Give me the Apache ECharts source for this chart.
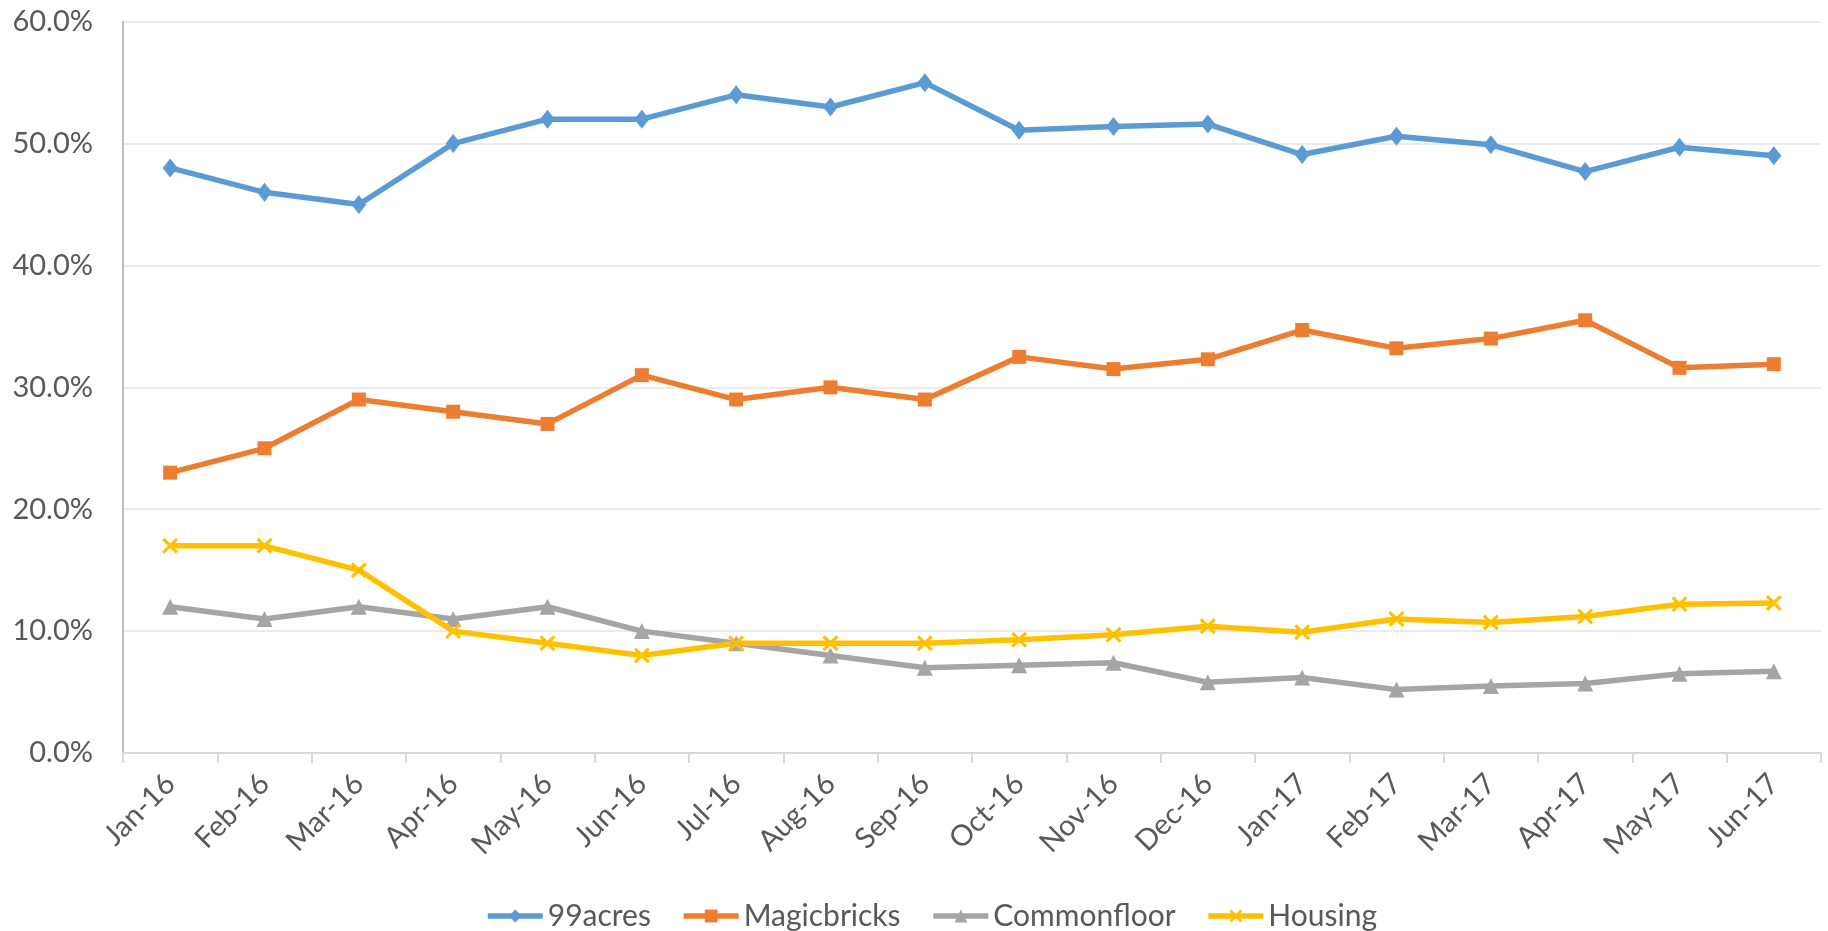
<!DOCTYPE html>
<html>
<head>
<meta charset="utf-8">
<script src="https://cdn.jsdelivr.net/npm/echarts@6/dist/echarts.min.js"></script>
<style>html,body{margin:0;padding:0;background:#fff}#c{width:1828px;height:931px}</style>
</head>
<body>
<div id="c"></div>
<script>
const categories = ['Jan-16','Feb-16','Mar-16','Apr-16','May-16','Jun-16','Jul-16','Aug-16','Sep-16','Oct-16','Nov-16','Dec-16','Jan-17','Feb-17','Mar-17','Apr-17','May-17','Jun-17'];
const acres99 = [0.48,0.46,0.45,0.50,0.52,0.52,0.54,0.53,0.55,0.511,0.514,0.516,0.491,0.506,0.499,0.477,0.497,0.490];
const magicbricks = [0.23,0.25,0.29,0.28,0.27,0.31,0.29,0.30,0.29,0.325,0.315,0.323,0.347,0.332,0.340,0.355,0.316,0.319];
const commonfloor = [0.12,0.11,0.12,0.11,0.12,0.10,0.09,0.08,0.07,0.072,0.074,0.058,0.062,0.052,0.055,0.057,0.065,0.067];
const housing = [0.17,0.17,0.15,0.10,0.09,0.08,0.09,0.09,0.09,0.093,0.097,0.104,0.099,0.110,0.107,0.112,0.122,0.123];
const seriesNames = ['99acres','Magicbricks','Commonfloor','Housing'];

const FONT = 'Lato';
const TXT = '#595959';
const X_PATH = 'path://M0,1.4 L1.4,0 L5,3.6 L8.6,0 L10,1.4 L6.4,5 L10,8.6 L8.6,10 L5,6.4 L1.4,10 L0,8.6 L3.6,5 Z';

function mk(name, data, color, symbol, size) {
  return {
    name: name, type: 'line', data: data, symbol: symbol, symbolSize: size,
    showSymbol: true,
    lineStyle: { color: color, width: 5.5 },
    itemStyle: { color: color },
    emphasis: { disabled: true },
    animation: false
  };
}

const chart = echarts.init(document.getElementById('c'));
chart.setOption({
  backgroundColor: '#ffffff',
  animation: false,
  grid: { left: 123, right: 7, top: 21.7, bottom: 178, containLabel: false },
  legend: {
    bottom: -5, left: 480,
    itemWidth: 55, itemHeight: 16, itemGap: 30,
    lineStyle: { width: 5.5 },
    textStyle: { fontFamily: FONT, fontSize: 30, color: TXT },
    data: seriesNames
  },
  xAxis: {
    type: 'category', data: categories, boundaryGap: true,
    axisLine: { show: true, lineStyle: { color: '#d9d9d9', width: 2 } },
    axisTick: { show: true, alignWithLabel: false, length: 10, lineStyle: { color: '#d9d9d9', width: 2 } },
    axisLabel: { rotate: 45, margin: 26, fontFamily: FONT, fontSize: 29, color: TXT, interval: 0 },
    splitLine: { show: false }
  },
  yAxis: {
    type: 'value', min: 0, max: 0.6, interval: 0.1,
    axisLine: { show: true, lineStyle: { color: '#bfbfbf', width: 2 } },
    axisTick: { show: false },
    axisLabel: { margin: 30, fontFamily: FONT, fontSize: 29, color: TXT,
      formatter: function (v) { return (v * 100).toFixed(1) + '%'; } },
    splitLine: { show: true, lineStyle: { color: '#ebebeb', width: 2 } }
  },
  series: [
    mk(seriesNames[0], acres99, '#5B9BD5', 'diamond', [15, 19]),
    mk(seriesNames[1], magicbricks, '#ED7D31', 'rect', 14),
    mk(seriesNames[2], commonfloor, '#A5A5A5', 'triangle', 16),
    mk(seriesNames[3], housing, '#FFC000', X_PATH, 16)
  ]
});
</script>
</body>
</html>
